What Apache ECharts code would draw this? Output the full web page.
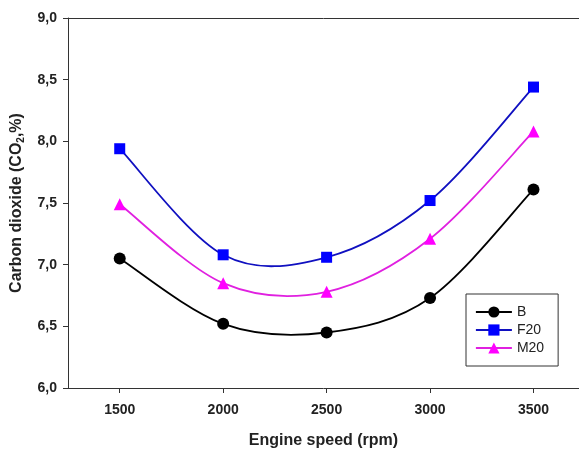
<!DOCTYPE html>
<html>
<head>
<meta charset="utf-8">
<script src="https://cdn.jsdelivr.net/npm/echarts@6/dist/echarts.min.js"></script>
<style>html,body{margin:0;padding:0;background:#fff}#c{width:579px;height:450px}</style>
</head>
<body>
<div id="c"></div>
<script>
const speeds = [1500, 2000, 2500, 3000, 3500];
const seriesB = [7.05, 6.52, 6.45, 6.73, 7.61];
const seriesF20 = [7.94, 7.08, 7.06, 7.52, 8.44];
const seriesM20 = [7.49, 6.85, 6.78, 7.21, 8.08];
const yTicks = [6.0, 6.5, 7.0, 7.5, 8.0, 8.5, 9.0];

const chart = echarts.init(document.getElementById('c'));
const font = 'Liberation Sans, Arial, sans-serif';

function markerSeries(name, vals, lineColor, color, symbol, size) {
  return {
    name, type: 'line', data: speeds.map((s, i) => [s, vals[i]]),
    symbol, symbolSize: size,
    lineStyle: { color: lineColor, width: 1.8, opacity: 0 },
    itemStyle: { color },
    z: 4
  };
}
// Catmull-Rom spline through the data points, positioned via the axis scales
function curveSeries(name, vals, lineColor) {
  return {
    name, type: 'custom', coordinateSystem: 'cartesian2d', clip: false, z: 3,
    data: [[speeds[0], vals[0]]],
    renderItem: function (params, api) {
      const p = speeds.map((s, i) => api.coord([s, vals[i]]));
      const n = p.length;
      let d = 'M' + p[0][0] + ' ' + p[0][1];
      for (let i = 0; i < n - 1; i++) {
        const p0 = p[Math.max(i - 1, 0)], p1 = p[i], p2 = p[i + 1], p3 = p[Math.min(i + 2, n - 1)];
        const c1 = [p1[0] + (p2[0] - p0[0]) / 6, p1[1] + (p2[1] - p0[1]) / 6];
        const c2 = [p2[0] - (p3[0] - p1[0]) / 6, p2[1] - (p3[1] - p1[1]) / 6];
        d += ' C' + c1[0] + ' ' + c1[1] + ' ' + c2[0] + ' ' + c2[1] + ' ' + p2[0] + ' ' + p2[1];
      }
      return { type: 'path', shape: { pathData: d }, style: { fill: 'none', stroke: lineColor, lineWidth: 1.8 } };
    }
  };
}

const legendItem = (name, lineColor) => ({ name, lineStyle: { opacity: 1, color: lineColor, width: 1.8 } });

chart.setOption({
  animation: false,
  grid: { left: 68, top: 18, right: 0, height: 370, containLabel: false, outerBoundsMode: 'none' },
  xAxis: [{
    type: 'value', min: 1250, max: 3720, interval: 250,
    name: 'Engine speed (rpm)', nameLocation: 'middle', nameGap: 45,
    nameTextStyle: { fontFamily: font, fontWeight: 'bold', fontSize: 16, color: '#222' },
    axisLine: { show: true, lineStyle: { color: '#333' } },
    axisTick: { show: true, length: 5, customValues: speeds, lineStyle: { color: '#333' } },
    axisLabel: { fontFamily: font, fontWeight: 'bold', fontSize: 14, color: '#222', margin: 15,
      customValues: speeds, formatter: v => String(v) },
    splitLine: { show: false }
  }, {
    type: 'value', min: 1250, max: 3720, position: 'top',
    axisLine: { show: true, lineStyle: { color: '#333' } },
    axisTick: { show: false }, axisLabel: { show: false }, splitLine: { show: false }
  }],
  yAxis: {
    type: 'value', min: 6, max: 9, interval: 0.5,
    name: 'Carbon dioxide (CO{sub|2},%)', nameLocation: 'middle', nameGap: 42,
    nameTextStyle: { fontFamily: font, fontWeight: 'bold', fontSize: 16, color: '#222',
      rich: { sub: { fontFamily: font, fontWeight: 'bold', fontSize: 10, color: '#222', verticalAlign: 'bottom', padding: [8, 0, 0, 0] } } },
    axisLine: { show: true, lineStyle: { color: '#333' } },
    axisTick: { show: true, length: 5, lineStyle: { color: '#333' } },
    axisLabel: { fontFamily: font, fontWeight: 'bold', fontSize: 14, color: '#222', margin: 11,
      customValues: yTicks,
      formatter: v => v.toFixed(1).replace('.', ',') },
    splitLine: { show: false }
  },
  legend: {
    orient: 'vertical', left: 466, top: 294,
    backgroundColor: '#fff', borderColor: '#333', borderWidth: 1,
    padding: [11, 14, 11, 9], itemGap: 4, itemWidth: 36, itemHeight: 14,
    textStyle: { fontFamily: font, fontSize: 14, color: '#222' },
    data: [legendItem('B', '#000000'), legendItem('F20', '#1010c0'), legendItem('M20', '#e020e0')]
  },
  series: [
    markerSeries('B', seriesB, '#000000', '#000000', 'circle', 12),
    markerSeries('F20', seriesF20, '#1010c0', '#0000ff', 'rect', 11),
    markerSeries('M20', seriesM20, '#e020e0', '#ff00ff', 'triangle', 12),
    curveSeries('B', seriesB, '#000000'),
    curveSeries('F20', seriesF20, '#1010c0'),
    curveSeries('M20', seriesM20, '#e020e0')
  ]
});
</script>
</body>
</html>
